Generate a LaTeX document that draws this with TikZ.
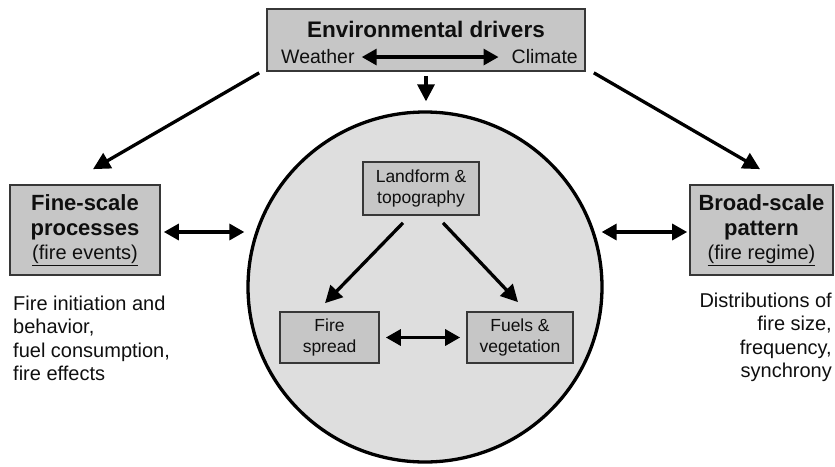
\documentclass[tikz,border=0pt]{standalone}
\usepackage{fontspec}
\setmainfont{Liberation Sans}
\usetikzlibrary{arrows.meta,shapes.geometric,calc}
\definecolor{boxgray}{RGB}{198,198,198}
\definecolor{circgray}{RGB}{222,222,222}
\definecolor{edgegray}{RGB}{55,55,55}
\definecolor{ink}{RGB}{15,15,15}
\newcommand{\fsz}[2]{\fontsize{#1}{#2}\selectfont}
\tikzset{
  graybox/.style={draw=edgegray, line width=1.7pt, fill=boxgray, inner sep=0pt, text=ink, align=center},
  plaintext/.style={text=ink, inner sep=0pt},
  arr/.style={draw=black, line width=3.3pt, -{Triangle[length=17pt,width=17pt]}},
  darr/.style={draw=black, line width=3.3pt, {Triangle[length=15pt,width=16pt]}-{Triangle[length=15pt,width=16pt]}},
}
\begin{document}
\begin{tikzpicture}[x=1pt,y=-1pt]
\useasboundingbox (0,0) rectangle (835,466);

% central circle
\node[draw=black, line width=3.3pt, fill=circgray, ellipse, minimum width=354pt, minimum height=350pt] (circ) at (425,287) {};

% top box
\node[graybox, minimum width=318pt, minimum height=62pt] (env) at (426,40) {};
\node[plaintext, font=\fsz{22.5}{26}\bfseries, anchor=base] (envt) at (426,37) {Environmental drivers};
\node[plaintext, font=\fsz{19.5}{23}, anchor=base west] (wea) at (281,63) {Weather};
\node[plaintext, font=\fsz{19.5}{23}, anchor=base east] (cli) at (578,63) {Climate};

% side boxes
\node[graybox, minimum width=150pt, minimum height=90pt, font=\fsz{22}{25}\bfseries] (fine) at (85,230)
  {Fine-scale\\processes\\[-1pt]{\fsz{20}{24}\mdseries\underline{(fire events)}}};
\node[graybox, minimum width=143pt, minimum height=90pt, font=\fsz{22}{25}\bfseries] (broad) at (761.5,230)
  {Broad-scale\\pattern\\[-1pt]{\fsz{20}{24}\mdseries\underline{(fire regime)}}};

% inner boxes
\node[graybox, minimum width=116pt, minimum height=53pt, font=\fsz{17.5}{21}] (land) at (421,188.5) {Landform \&\\topography};
\node[graybox, minimum width=99pt, minimum height=51pt, font=\fsz{17.5}{21}] (fire) at (329.5,337.5) {Fire\\spread};
\node[graybox, minimum width=106pt, minimum height=51pt, font=\fsz{17.5}{21}] (fuels) at (520,337.5) {Fuels \&\\vegetation};

% descriptive texts
\node[plaintext, font=\fsz{20}{23.3}, align=left, anchor=north west] (finetxt) at (13,296)
  {Fire initiation and\\behavior,\\fuel consumption,\\fire effects};
\node[plaintext, font=\fsz{20}{23.3}, align=right, anchor=north east] (broadtxt) at (832,293)
  {Distributions of\\fire size,\\frequency,\\synchrony};

% connectors
\draw[darr] ($(wea.east)+(7,1)$) -- ($(cli.west)+(-13,1)$);
\draw[arr] ($(env.south)+(0,4)$) -- ($(circ.north)+(1,-9)$);
\draw[arr] ($(env.south west)+(-7,1)$) -- ($(fine.north)+(8,-15)$);
\draw[arr] ($(env.south east)+(8,1)$) -- ($(broad.north)+(-1.5,-15)$);
\draw[darr] ($(fine.east)+(3,2)$) -- ($(circ.west)+(-2,-55)$);
\draw[darr] ($(circ.east)+(-2,-55)$) -- ($(broad.west)+(-2,2)$);
\draw[arr] ($(land.south)+(-18,7)$) -- ($(fire.north)+(-4.5,-8)$);
\draw[arr] ($(land.south)+(22,7)$) -- ($(fuels.north)+(-2,-9)$);
\draw[darr] ($(fire.east)+(6,0)$) -- ($(fuels.west)+(-6,0)$);
\end{tikzpicture}
\end{document}
